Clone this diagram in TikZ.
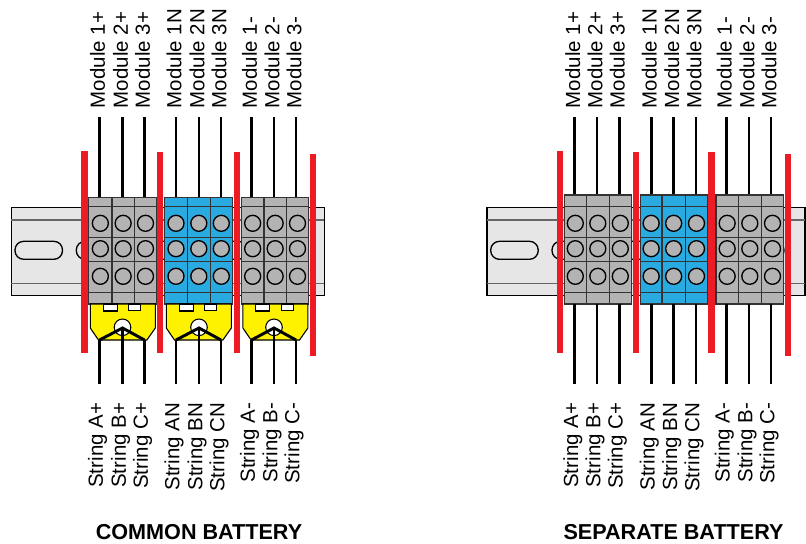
\documentclass[tikz,border=0pt]{standalone}
\usepackage{fontspec}
\setmainfont{Liberation Sans}
\definecolor{railgray}{HTML}{E6E6E6}
\definecolor{termgray}{HTML}{B3B3B3}
\definecolor{termblue}{HTML}{29ABE2}
\definecolor{clampyellow}{HTML}{FFF200}
\definecolor{barred}{HTML}{ED1C24}
\tikzset{
  wire/.style={line width=2.2pt, black},
  cell/.style={line width=1.1pt, draw=black!80},
  pin/.style={line width=1pt, draw=black, fill=termgray},
  barline/.style={fill=barred},
  toplabel/.style={rotate=90, anchor=west, inner xsep=6.5pt, inner ysep=0pt, font=\fontsize{15.35}{18}\selectfont},
  botlabel/.style={rotate=90, anchor=east, inner xsep=14pt, inner ysep=0pt, font=\fontsize{15.35}{18}\selectfont},
  titlelabel/.style={font=\fontsize{16.2}{18}\selectfont\bfseries},
}
% din rail, left end at #1
\newcommand{\dinrail}[2]{
  \begin{scope}[shift={(#1,0)}]
    \draw[line width=1pt, fill=railgray] (0,207.3) rectangle (#2,295.7);
    \draw[line width=1.2pt, black!60] (0,219.7) -- (#2,219.7);
    \draw[line width=1.2pt, black!60] (0,283.3) -- (#2,283.3);
    \foreach \s in {3.7,65,126.5,188,249.5}
      \draw[line width=1pt, rounded corners=6.5pt] (\s,241.3) rectangle ++(47.5,18);
  \end{scope}
}
% terminal block: colour, top, four x edges
\newcommand{\termblock}[6]{
  \foreach \a/\b in {#3/#4,#4/#5,#5/#6}{
    \draw[cell, fill=#1] (\a,#2) rectangle (\b,304);
    \draw[cell] (\a,206.7) -- (\b,206.7);
    \draw[cell] (\a,237.3) -- (\b,237.3);
    \draw[cell] (\a,261.3) -- (\b,261.3);
    \draw[cell] (\a,292.3) -- (\b,292.3);
    \pgfmathsetmacro{\c}{(\a+\b)/2}
    \foreach \r in {223.3,248.7,276.3}
      \draw[pin] (\c,\r) circle (8);
  }
}
% yellow clamp under a block: left edge of block, three wire positions
\newcommand{\clamp}[4]{
  \draw[line width=0.8pt, fill=clampyellow] (#1+1.6,304) -- (#1+1.6,328) -- (#1+9.8,340) -- (#1+58.2,340) -- (#1+66.6,328) -- (#1+66.6,304) -- cycle;
  \draw[line width=0.8pt, fill=white] (#1+14.6,304) rectangle (#1+28.6,311);
  \draw[line width=0.8pt, fill=white] (#1+39.8,304) rectangle (#1+51.8,310.5);
  \draw[line width=0.8pt, fill=white] (#3,327.3) circle (8.3);
  \draw[wire] (#2,340) -- (#3,328) -- (#4,340);
}

\begin{document}
\begin{tikzpicture}[x=0.75pt, y=-0.75pt]
  \useasboundingbox (0,0) rectangle (806,543);

  \dinrail{11.3}{313}
  \dinrail{487}{318}

  % top wires
  \foreach \x/\n/\t in {99.5/a/Module 1+,122.5/b/Module 2+,144.5/c/Module 3+,176/d/Module 1N,199/e/Module 2N,221/f/Module 3N,251.5/g/Module 1-,274/h/Module 2-,296/i/Module 3-,574.7/j/Module 1+,597/k/Module 2+,619.3/l/Module 3+,651.3/m/Module 1N,673.7/n/Module 2N,696/o/Module 3N,726.3/p/Module 1-,749/q/Module 2-,771/r/Module 3-}{
    \node[toplabel] (top\n) at (\x-2,117) {\t};
    \coordinate (topend\n) at (\x,200);
    \draw[wire] (top\n.west -| topend\n) -- (topend\n);
  }

  \termblock{termgray}{197.3}{88.7}{112}{134.3}{156.7}
  \termblock{termblue}{197.3}{164.7}{187.3}{210.3}{232.3}
  \termblock{termgray}{197.3}{241.3}{264}{286.3}{308.7}
  \termblock{termgray}{195}{564.3}{586.3}{609.3}{631.3}
  \termblock{termblue}{195}{640.3}{662}{685.3}{707.7}
  \termblock{termgray}{195}{716}{738.3}{761.3}{783.7}

  \clamp{88.7}{99.5}{122.5}{144.5}
  \clamp{164.7}{176}{199}{221}
  \clamp{241.3}{251.5}{274}{296}

  % bottom wires
  \foreach \x/\y/\n/\t in {99.5/340/a/String A+,122.5/328/b/String B+,144.5/340/c/String C+,176/340/d/String AN,199/328/e/String BN,221/340/f/String CN,251.5/340/g/String A-,274/328/h/String B-,296/340/i/String C-,574.7/304/j/String A+,597/304/k/String B+,619.3/304/l/String C+,651.3/304/m/String AN,673.7/304/n/String BN,696/304/o/String CN,726.3/304/p/String A-,749/304/q/String B-,771/304/r/String C-}{
    \node[botlabel] (bot\n) at (\x-2,384) {\t};
    \coordinate (botend\n) at (\x,\y);
    \draw[wire] (bot\n.east -| botend\n) -- (botend\n);
  }

  % red separators
  \foreach \a/\b/\u/\v in {81/87.7/151/352.7,157/163/152/352.7,234/240/152/352.7,310/316/154/356,557.3/563.3/151/352.7,633/639/152/352.7,708.3/715/152/352.7,785/791/154/356}
    \fill[barline] (\a,\u) rectangle (\b,\v);

  \node[titlelabel] (titleleft) at (199,532) {COMMON BATTERY};
  \node[titlelabel] (titleright) at (673.5,532) {SEPARATE BATTERY};
\end{tikzpicture}
\end{document}
